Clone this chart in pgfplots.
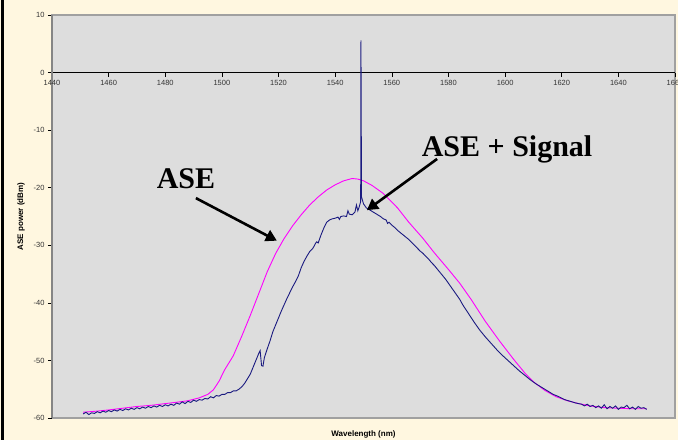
\documentclass[border=0pt]{standalone}
\usepackage{pgfplots}
\pgfplotsset{compat=1.18}
\usepackage{fontspec}
\setmainfont{Liberation Sans}
\newfontfamily\timesfont{Liberation Serif}
\usetikzlibrary{arrows.meta}
\definecolor{cream}{HTML}{FFF7E0}
\definecolor{plotgray}{HTML}{DDDDDD}
\definecolor{bordergray}{HTML}{A0A0A0}
\definecolor{axisgray}{HTML}{858585}
\definecolor{aseP}{HTML}{FF00FF}
\definecolor{sigB}{HTML}{1A1A80}

% measured ASE spectrum (pink)
\pgfplotstableread{
lam p
1451 -59.0
1456 -58.8
1460 -58.6
1465 -58.3
1470 -58.0
1475 -57.8
1480 -57.5
1485 -57.2
1488 -57.0
1492 -56.5
1495 -55.9
1497 -55.1
1499 -53.6
1501 -51.6
1504 -49.2
1507 -45.8
1510 -42.2
1513 -38.4
1516 -34.6
1519 -31.4
1522 -28.8
1525 -26.6
1528 -24.7
1531 -23.0
1534 -21.6
1537 -20.4
1540 -19.5
1543 -18.8
1546 -18.4
1548 -18.5
1550 -18.8
1553 -19.6
1557 -21.0
1562 -23.5
1566 -26.0
1571 -28.8
1575 -31.3
1580 -34.2
1584 -36.6
1588 -39.4
1593 -43.2
1598 -46.6
1603 -49.8
1607 -52.2
1610 -53.7
1614 -55.2
1618 -56.3
1622 -57.0
1626 -57.5
1630 -57.9
1635 -58.2
1640 -58.3
1645 -58.4
1650 -58.4
}\asedata

% ASE + signal (blue)
\pgfplotstableread{
lam p
1451 -59.3
1452 -59.0
1453 -59.4
1454 -59.1
1455 -59.2
1456 -58.9
1457 -59.1
1458 -58.8
1459 -59.0
1460 -58.7
1461 -58.9
1462 -58.6
1463 -58.8
1464 -58.5
1465 -58.7
1466 -58.4
1467 -58.6
1468 -58.3
1469 -58.5
1470 -58.2
1471 -58.4
1472 -58.1
1473 -58.3
1474 -58.0
1475 -58.2
1476 -57.9
1477 -58.1
1478 -57.8
1479 -58.0
1480 -57.7
1481 -57.9
1482 -57.6
1483 -57.8
1484 -57.4
1485 -57.6
1486 -57.2
1487 -57.5
1488 -57.1
1489 -57.3
1490 -56.9
1491 -57.1
1492 -56.8
1493 -56.9
1494 -56.6
1495 -56.7
1496 -56.3
1497 -56.5
1498 -56.1
1499 -56.2
1500 -55.9
1501 -55.9
1502 -55.6
1503 -55.6
1504 -55.3
1505 -55.3
1506 -55.0
1507 -54.6
1508 -54.0
1509 -53.2
1510 -52.4
1511 -51.2
1512 -50.0
1513 -48.8
1513.5 -48.3
1514 -50.9
1514.5 -51.0
1515 -49.5
1516 -48.0
1517 -46.6
1518 -45.0
1519 -43.8
1520 -42.6
1521 -41.4
1522 -40.3
1523 -39.2
1524 -38.2
1525 -37.2
1526 -36.3
1527 -35.3
1528 -33.9
1529 -32.8
1530 -31.9
1531 -31.1
1532 -30.6
1532.5 -30.2
1533 -29.7
1533.5 -29.4
1534 -29.6
1535 -28.2
1536 -27.0
1537 -26.0
1538 -25.6
1539 -25.4
1540 -25.3
1541 -25.1
1541.5 -25.5
1542 -25.0
1543 -24.9
1544 -25.0
1544.5 -24.0
1545 -24.6
1546 -24.7
1547 -24.2
1547.5 -23.0
1548 -24.0
1548.5 -23.3
1549 -22.4
1549.1 5.6
1549.3 -21.6
1550 -22.8
1551 -23.5
1552 -23.8
1553 -24.1
1554 -24.4
1555 -24.7
1556 -25.0
1557 -25.4
1558 -25.6
1558.5 -26.2
1559 -26.0
1560 -26.5
1561 -26.9
1562 -27.4
1563 -27.8
1564 -28.2
1565 -28.6
1566 -29.0
1567 -29.5
1568 -30.0
1569 -30.5
1570 -31.0
1571 -31.4
1572 -31.9
1573 -32.4
1574 -33.0
1575 -33.5
1576 -34.1
1577 -34.7
1578 -35.3
1579 -35.9
1580 -36.6
1581 -37.3
1582 -38.0
1583 -38.7
1584 -39.4
1585 -40.3
1587 -41.8
1589 -43.3
1591 -44.7
1593 -45.9
1595 -47.0
1597 -48.1
1599 -49.1
1601 -50.0
1603 -50.9
1605 -51.8
1607 -52.6
1609 -53.4
1611 -54.1
1613 -54.7
1615 -55.3
1617 -55.9
1619 -56.3
1621 -56.8
1623 -57.1
1625 -57.4
1627 -57.6
1628 -57.9
1629 -57.6
1630 -58.0
1631 -57.8
1632 -58.2
1633 -57.9
1634 -58.3
1635 -57.7
1636 -58.4
1637 -58.0
1638 -58.3
1639 -57.9
1640 -58.5
1641 -58.1
1642 -58.2
1643 -57.8
1644 -58.4
1645 -58.1
1646 -58.5
1647 -58.0
1648 -58.3
1649 -58.2
1650 -58.5
}\sigdata

\begin{document}
\begin{tikzpicture}
\useasboundingbox (0,0) rectangle (678pt,440pt);
\clip (0,0) rectangle (678pt,440pt);
\fill[cream] (0,0) rectangle (678pt,440pt);
\fill[black] (1pt,0) rectangle (3.5pt,440pt);
\begin{axis}[
  at={(52pt,22pt)}, anchor=south west,
  scale only axis, width=623pt, height=403pt,
  xmin=1440, xmax=1660, ymin=-60, ymax=10,
  xtick={1440,1460,...,1660}, ytick={-60,-50,...,10},
  axis x line*=middle, axis y line*=left,
  hide obscured x ticks=false, hide obscured y ticks=false,
  axis line style={-},
  x axis line style={black, line width=0.8pt},
  y axis line style={axisgray, line width=2pt},
  axis background/.style={fill=plotgray, draw=bordergray, line width=1.2pt},
  tick align=outside, major tick length=4pt,
  tick style={black, line width=0.6pt},
  /pgf/number format/1000 sep={},
  /pgf/number format/assume math mode=true,
  ticklabel style={font=\fontsize{7.5}{9}\selectfont, text=black!80},
  xlabel={Wavelength (nm)}, ylabel={ASE power (dBm)},
  xlabel style={at={(axis description cs:0.5,-0.04)}, anchor=center,
    font=\bfseries\fontsize{8}{9}\selectfont},
  ylabel style={at={(axis description cs:-0.0498,0.5)}, anchor=center,
    font=\bfseries\fontsize{8}{9}\selectfont},
]
\addplot[aseP, line width=0.9pt] table[x=lam, y=p] {\asedata};
\addplot[sigB, line width=0.9pt] table[x=lam, y=p] {\sigdata};

\node[font=\timesfont\bfseries\fontsize{30}{30}\selectfont, anchor=base]
  at (axis cs:1487.3,-20.2) {ASE};
\node[font=\timesfont\bfseries\fontsize{30}{30}\selectfont, anchor=base]
  at (axis cs:1600.7,-14.5) {ASE + Signal};
\draw[-{Triangle[length=11pt,width=12pt]}, line width=2.6pt, black]
  (axis cs:1490.8,-21.8) -- (axis cs:1519.4,-29.2);
\draw[-{Triangle[length=11pt,width=12pt]}, line width=2.6pt, black]
  (axis cs:1576,-15.0) -- (axis cs:1551.2,-23.9);
\end{axis}
\end{tikzpicture}
\end{document}
